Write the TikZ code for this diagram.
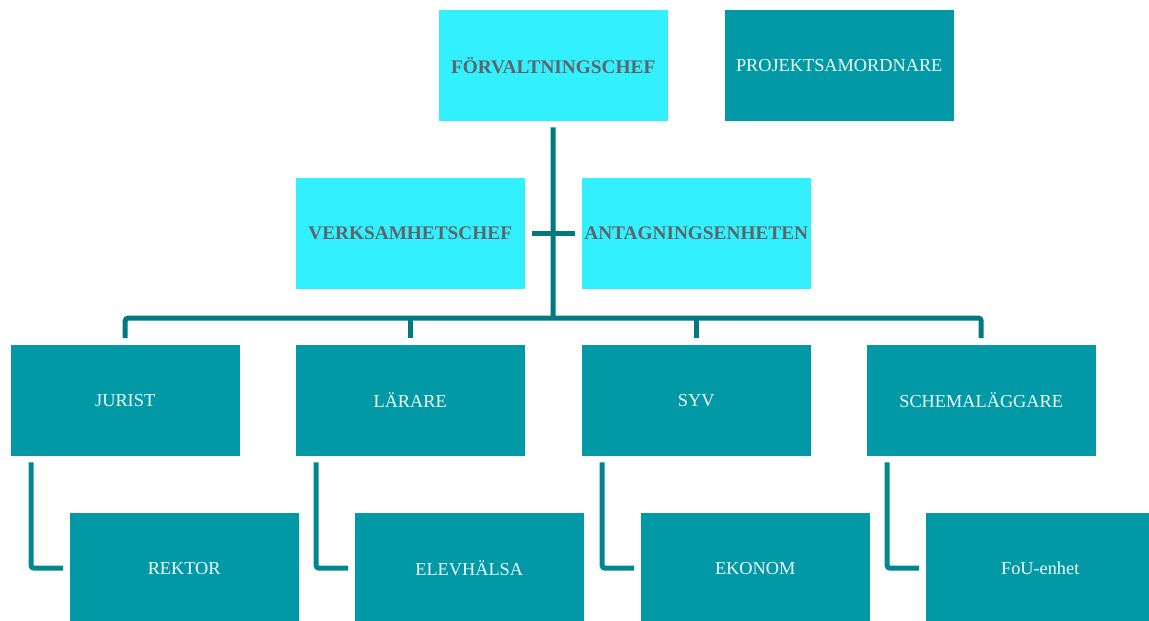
\documentclass[tikz,border=0pt]{standalone}
\usepackage{fontspec}
\setmainfont{Liberation Serif}
\definecolor{lightcyan}{HTML}{33F0FF}
\definecolor{teal1}{HTML}{0099A5}
\definecolor{busc}{HTML}{007A80}
\definecolor{subc}{HTML}{00878F}
\definecolor{graytext}{HTML}{606468}
\tikzset{
  box/.style={rectangle, anchor=north west, minimum width=230pt, minimum height=112pt, inner sep=0pt, draw=white, line width=0.4pt},
  lightbox/.style={box, fill=lightcyan, text=graytext, font=\fontsize{19.3}{21}\selectfont\bfseries},
  darkbox/.style={box, fill=teal1, text=white!94!teal1, font=\fontsize{18.3}{20}\selectfont},
  busline/.style={draw=busc, line width=5pt, rounded corners=3pt},
  subline/.style={draw=subc, line width=5pt, rounded corners=3pt}
}
\begin{document}
\begin{tikzpicture}[x=1pt,y=-1pt]
\useasboundingbox (0,0) rectangle (1149,621);
\begin{scope}
\clip (0,0) rectangle (1149,621);
% top row
\node[lightbox] (f) at (438,9) {FÖRVALTNINGSCHEF};
\node[darkbox] (p) at (724,9) {PROJEKTSAMORDNARE};
% second row
\node[lightbox] (v) at (295,177) {VERKSAMHETSCHEF};
\node[lightbox] (a) at (581,177) {ANTAGNINGSENHETEN};
% third row
\node[darkbox] (j) at (10,344) {JURIST};
\node[darkbox] (l) at (295,344) {LÄRARE};
\node[darkbox] (s) at (581,344) {SYV};
\node[darkbox] (sc) at (866,344) {SCHEMALÄGGARE};
% fourth row
\node[darkbox] (r) at (69,512) {REKTOR};
\node[darkbox] (e) at (354,512) {ELEVHÄLSA};
\node[darkbox] (ek) at (640,512) {EKONOM};
\node[darkbox] (fo) at (925,512) {FoU-enhet};
\end{scope}
% bus connectors
\coordinate (bus) at (553,318);
\draw[busline] ([yshift=-6pt]f.south |- f.south) -- (bus);
\draw[busline] ([yshift=6pt]j.north) |- (bus) -| ([yshift=6pt]sc.north);
\draw[busline] ([yshift=6pt]l.north) -- (l.north |- bus);
\draw[busline] ([yshift=6pt]s.north) -- (s.north |- bus);
\draw[busline] ([xshift=7pt]v.east) -- ([xshift=-6pt]a.west);
% sub connectors
\draw[subline] ([xshift=21pt,yshift=-6pt]j.south west) |- ([xshift=-6pt]r.west);
\draw[subline] ([xshift=21pt,yshift=-6pt]l.south west) |- ([xshift=-6pt]e.west);
\draw[subline] ([xshift=21pt,yshift=-6pt]s.south west) |- ([xshift=-6pt]ek.west);
\draw[subline] ([xshift=21pt,yshift=-6pt]sc.south west) |- ([xshift=-6pt]fo.west);
\end{tikzpicture}
\end{document}
